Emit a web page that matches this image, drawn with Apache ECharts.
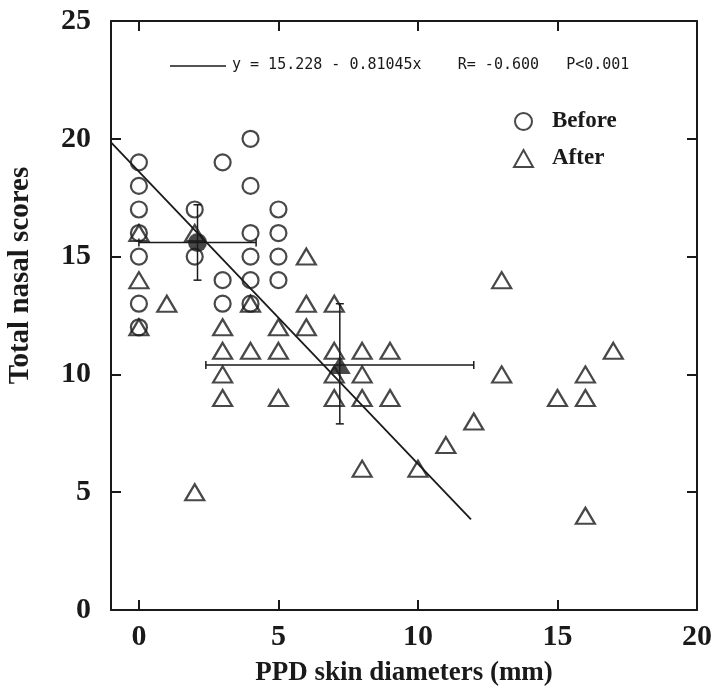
<!DOCTYPE html>
<html>
<head>
<meta charset="utf-8">
<script src="https://cdn.jsdelivr.net/npm/echarts@6/dist/echarts.min.js"></script>
<style>
  html, body { margin: 0; padding: 0; background: #fff; }
  #main { width: 718px; height: 688px; }
</style>
</head>
<body>
<div id="main"></div>
<script>
// PPD skin diameter vs total nasal score
var beforeX = [0, 0, 0, 0, 0, 0, 0, 2, 2, 3, 3, 3, 4, 4, 4, 4, 4, 4, 5, 5, 5, 5];
var beforeY = [19, 18, 17, 16, 15, 13, 12, 17, 15, 19, 14, 13, 20, 18, 16, 15, 14, 13, 17, 16, 15, 14];

var afterX = [0, 0, 0, 1, 2, 2, 3, 3, 3, 3, 4, 4, 5, 5, 5, 6, 6, 6, 7, 7, 7, 7,
  8, 8, 8, 8, 9, 9, 10, 11, 12, 13, 13, 15, 16, 16, 16, 17];
var afterY = [16, 14, 12, 13, 16, 5, 12, 11, 10, 9, 13, 11, 12, 11, 9, 15, 13, 12, 13, 11, 10, 9,
  11, 10, 9, 6, 11, 9, 6, 7, 8, 14, 10, 9, 10, 9, 4, 11];

// mean, x range (low, high), y range (low, high)
var beforeMean = [2.1, 15.6, 0.0, 4.2, 14.0, 17.2];
var afterMean = [7.2, 10.4, 2.4, 12.0, 7.9, 13.0];

// fitted line as drawn
var fitX = [-1, 11.9];
var fitY = [19.85, 3.85];

var xTicks = [0, 5, 10, 15, 20];
var eqText = 'y = 15.228 - 0.81045x    R= -0.600   P<0.001';

var ink = '#1a1a1a';
var serif = 'Liberation Serif';

function pairs(xs, ys) {
  return xs.map(function (x, i) { return [x, ys[i]]; });
}

function renderErr(params, api) {
  var x = api.value(0), y = api.value(1);
  var xl = api.coord([api.value(2), y]);
  var xh = api.coord([api.value(3), y]);
  var yl = api.coord([x, api.value(4)]);
  var yh = api.coord([x, api.value(5)]);
  var st = { stroke: ink, lineWidth: 1.5 };
  var c = 4;
  return {
    type: 'group',
    children: [
      { type: 'line', shape: { x1: xl[0], y1: xl[1], x2: xh[0], y2: xh[1] }, style: st },
      { type: 'line', shape: { x1: xl[0], y1: xl[1] - c, x2: xl[0], y2: xl[1] + c }, style: st },
      { type: 'line', shape: { x1: xh[0], y1: xh[1] - c, x2: xh[0], y2: xh[1] + c }, style: st },
      { type: 'line', shape: { x1: yl[0], y1: yl[1], x2: yh[0], y2: yh[1] }, style: st },
      { type: 'line', shape: { x1: yl[0] - c, y1: yl[1], x2: yl[0] + c, y2: yl[1] }, style: st },
      { type: 'line', shape: { x1: yh[0] - c, y1: yh[1], x2: yh[0] + c, y2: yh[1] }, style: st }
    ]
  };
}

var chart = echarts.init(document.getElementById('main'), null, { renderer: 'canvas' });

var hollow = { color: 'rgba(0,0,0,0)', borderColor: ink, borderWidth: 2.2 };
var frame = { onZero: false, lineStyle: { color: ink, width: 2 } };
var tick = { inside: true, length: 10, lineStyle: { color: ink, width: 2 } };

var options = {
  backgroundColor: '#fff',
  animation: false,
  grid: { left: 111, right: 21, top: 21, bottom: 78, containLabel: false, outerBoundsMode: 'none' },
  legend: {
    data: ['Before', 'After'],
    orient: 'vertical',
    left: 508,
    top: 105,
    itemWidth: 19,
    itemHeight: 17,
    itemGap: 14,
    selectedMode: false,
    textStyle: { fontFamily: serif, fontWeight: 'bold', fontSize: 23, color: ink, padding: [0, 0, 0, 14] }
  },
  graphic: [
    { type: 'line', shape: { x1: 170, y1: 66, x2: 226, y2: 66 }, style: { stroke: ink, lineWidth: 1.5 } },
    {
      type: 'text', left: 232, top: 58,
      style: { text: eqText, fontFamily: 'DejaVu Sans Mono', fontSize: 15, fill: ink }
    }
  ],
  xAxis: [{
    type: 'value',
    min: -1,
    max: 20,
    position: 'bottom',
    name: 'PPD skin diameters (mm)',
    nameLocation: 'middle',
    nameGap: 50,
    nameTextStyle: { fontFamily: serif, fontWeight: 'bold', fontSize: 27, color: ink },
    splitLine: { show: false },
    axisLine: frame,
    axisTick: Object.assign({ customValues: xTicks }, tick),
    axisLabel: { customValues: xTicks, margin: 12, fontFamily: serif, fontWeight: 'bold', fontSize: 30, color: ink }
  }, {
    type: 'value',
    min: -1,
    max: 20,
    position: 'top',
    splitLine: { show: false },
    axisLine: frame,
    axisTick: Object.assign({ customValues: xTicks }, tick),
    axisLabel: { show: false }
  }],
  yAxis: [{
    type: 'value',
    min: 0,
    max: 25,
    interval: 5,
    position: 'left',
    name: 'Total nasal scores',
    nameLocation: 'middle',
    nameGap: 76,
    nameTextStyle: { fontFamily: serif, fontWeight: 'bold', fontSize: 29, color: ink, padding: [0, 0, 0, 80] },
    splitLine: { show: false },
    axisLine: frame,
    axisTick: tick,
    axisLabel: { margin: 20, fontFamily: serif, fontWeight: 'bold', fontSize: 30, color: ink }
  }, {
    type: 'value',
    min: 0,
    max: 25,
    interval: 5,
    position: 'right',
    splitLine: { show: false },
    axisLine: frame,
    axisTick: tick,
    axisLabel: { show: false }
  }],
  series: [
    {
      name: 'Before',
      type: 'scatter',
      symbol: 'circle',
      symbolSize: 16,
      itemStyle: hollow,
      data: pairs(beforeX, beforeY)
    },
    {
      name: 'After',
      type: 'scatter',
      symbol: 'triangle',
      symbolSize: [19, 16],
      itemStyle: hollow,
      data: pairs(afterX, afterY)
    },
    {
      name: 'fit',
      type: 'line',
      symbol: 'none',
      lineStyle: { color: ink, width: 1.8 },
      data: pairs(fitX, fitY),
      z: 3
    },
    {
      name: 'errors',
      type: 'custom',
      renderItem: renderErr,
      data: [beforeMean, afterMean],
      z: 4
    },
    {
      name: 'Before mean',
      type: 'scatter',
      symbol: 'circle',
      symbolSize: 19,
      itemStyle: { color: ink },
      data: [beforeMean.slice(0, 2)],
      z: 5
    },
    {
      name: 'After mean',
      type: 'scatter',
      symbol: 'triangle',
      symbolSize: [22, 18],
      itemStyle: { color: ink },
      data: [afterMean.slice(0, 2)],
      z: 5
    }
  ]
};

chart.setOption(options);
</script>
</body>
</html>
